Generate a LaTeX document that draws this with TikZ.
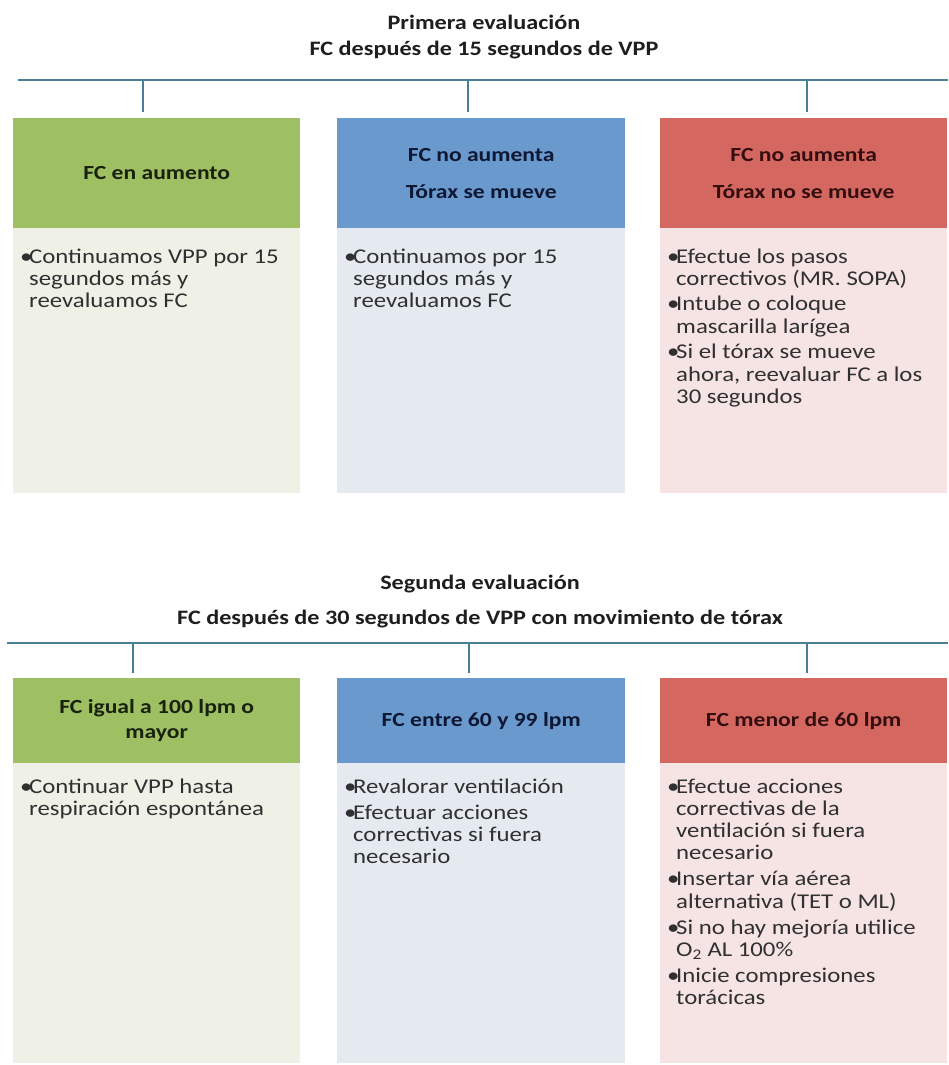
\documentclass[tikz,border=0pt]{standalone}
\usepackage{fontspec}
\setmainfont{Carlito}[FakeStretch=1.18]

\definecolor{barline}{RGB}{74,128,150}
\definecolor{ghead}{RGB}{158,191,98}
\definecolor{bhead}{RGB}{106,153,206}
\definecolor{rhead}{RGB}{212,104,97}
\definecolor{gbody}{RGB}{239,241,231}
\definecolor{bbody}{RGB}{229,234,241}
\definecolor{rbody}{RGB}{246,228,228}
\definecolor{gtext}{RGB}{24,34,14}
\definecolor{btext}{RGB}{14,24,52}
\definecolor{rtext}{RGB}{52,14,14}
\definecolor{bodytext}{RGB}{48,48,48}
\definecolor{titletext}{RGB}{30,30,30}

% bullet with fixed advance, used in the first column of each list
\newcommand{\bl}{\makebox[9pt][l]{\textbullet}}
% list of bullet items: first row baseline is the node baseline
\newenvironment{itemlist}{\begin{tabular}[t]{@{}l@{}l@{}}}{\end{tabular}}

\begin{document}
\begin{tikzpicture}[x=1pt,y=-1pt,
  title/.style={anchor=base, inner sep=0pt, font=\fontsize{20.5}{26}\selectfont\bfseries, text=titletext},
  bar/.style={draw=barline, line width=1.8pt},
  tick/.style={draw=barline, line width=1.6pt},
  headbox/.style={rectangle, anchor=north west, inner sep=4pt, minimum width=287pt,
    align=center, font=\fontsize{20}{25}\selectfont\bfseries},
  bodybox/.style={rectangle, anchor=north west, inner sep=0pt, minimum width=287pt},
  items/.style={anchor=base west, inner sep=0pt, text=bodytext,
    font=\fontsize{21}{22.2}\selectfont}
]
\path[use as bounding box] (0,0) rectangle (948,1065);
\fill[white] (0,0) rectangle (948,1065);

% ---------------- first evaluation ----------------
\node[title] (t1a) at (484,30) {Primera evaluación};
\node[title] (t1b) at (484,56) {FC después de 15 segundos de VPP};

\coordinate (b1L) at (18,80);
\coordinate (b1R) at (948,80);
\coordinate (b1g) at (143,80);  \coordinate (e1g) at (143,112);
\coordinate (b1b) at (468,80);  \coordinate (e1b) at (468,112);
\coordinate (b1r) at (807,80);  \coordinate (e1r) at (807,112);
\draw[bar] (b1L) -- (b1R);
\draw[tick] (b1g) -- (e1g);
\draw[tick] (b1b) -- (e1b);
\draw[tick] (b1r) -- (e1r);

\node[bodybox, fill=gbody, minimum height=265pt] (g1body) at (13,228) {};
\node[bodybox, fill=bbody, minimum height=265pt, minimum width=288pt] (b1body) at (337,228) {};
\node[bodybox, fill=rbody, minimum height=265pt] (r1body) at (660,228) {};

\node[headbox, fill=ghead, text=gtext, minimum height=110pt] (g1head) at (13,118)
  {FC en aumento};
\node[headbox, fill=bhead, text=btext, minimum height=110pt, minimum width=288pt] (b1head) at (337,118)
  {FC no aumenta\\[12pt]Tórax se mueve};
\node[headbox, fill=rhead, text=rtext, minimum height=110pt] (r1head) at (660,118)
  {FC no aumenta\\[12pt]Tórax no se mueve};

\node[items] (g1items) at (20,263) {\begin{itemlist}
  \bl & Continuamos VPP por 15\\
      & segundos más y\\
      & reevaluamos FC
\end{itemlist}};
\node[items] (b1items) at (344,263) {\begin{itemlist}
  \bl & Continuamos por 15\\
      & segundos más y\\
      & reevaluamos FC
\end{itemlist}};
\node[items] (r1items) at (667,263) {\begin{itemlist}
  \bl & Efectue los pasos\\
      & correctivos (MR. SOPA)\\[3.5pt]
  \bl & Intube o coloque\\
      & mascarilla larígea\\[3.5pt]
  \bl & Si el tórax se mueve\\
      & ahora, reevaluar FC a los\\
      & 30 segundos
\end{itemlist}};

% ---------------- second evaluation ----------------
\node[title] (t2a) at (480,589) {Segunda evaluación};
\node[title] (t2b) at (480,624) {FC después de 30 segundos de VPP con movimiento de tórax};

\coordinate (b2L) at (7,643);
\coordinate (b2R) at (948,643);
\coordinate (b2g) at (133,643);  \coordinate (e2g) at (133,673);
\coordinate (b2b) at (469,643);  \coordinate (e2b) at (469,673);
\coordinate (b2r) at (807,643);  \coordinate (e2r) at (807,673);
\draw[bar] (b2L) -- (b2R);
\draw[tick] (b2g) -- (e2g);
\draw[tick] (b2b) -- (e2b);
\draw[tick] (b2r) -- (e2r);

\node[bodybox, fill=gbody, minimum height=300pt] (g2body) at (13,763) {};
\node[bodybox, fill=bbody, minimum height=300pt, minimum width=288pt] (b2body) at (337,763) {};
\node[bodybox, fill=rbody, minimum height=300pt] (r2body) at (660,763) {};

\node[headbox, fill=ghead, text=gtext, minimum height=85pt] (g2head) at (13,678)
  {FC igual a 100 lpm o\\mayor};
\node[headbox, fill=bhead, text=btext, minimum height=85pt, minimum width=288pt] (b2head) at (337,678)
  {FC entre 60 y 99 lpm};
\node[headbox, fill=rhead, text=rtext, minimum height=85pt] (r2head) at (660,678)
  {FC menor de 60 lpm};

\node[items] (g2items) at (20,793) {\begin{itemlist}
  \bl & Continuar VPP hasta\\
      & respiración espontánea
\end{itemlist}};
\node[items] (b2items) at (344,793) {\begin{itemlist}
  \bl & Revalorar ventilación\\[4pt]
  \bl & Efectuar acciones\\
      & correctivas si fuera\\
      & necesario
\end{itemlist}};
\node[items] (r2items) at (667,793) {\begin{itemlist}
  \bl & Efectue acciones\\
      & correctivas de la\\
      & ventilación si fuera\\
      & necesario\\[4pt]
  \bl & Insertar vía aérea\\
      & alternativa (TET o ML)\\[4pt]
  \bl & Si no hay mejoría utilice\\
      & O\textsubscript{2} AL 100\%\\[4pt]
  \bl & Inicie compresiones\\
      & torácicas
\end{itemlist}};
\end{tikzpicture}
\end{document}
